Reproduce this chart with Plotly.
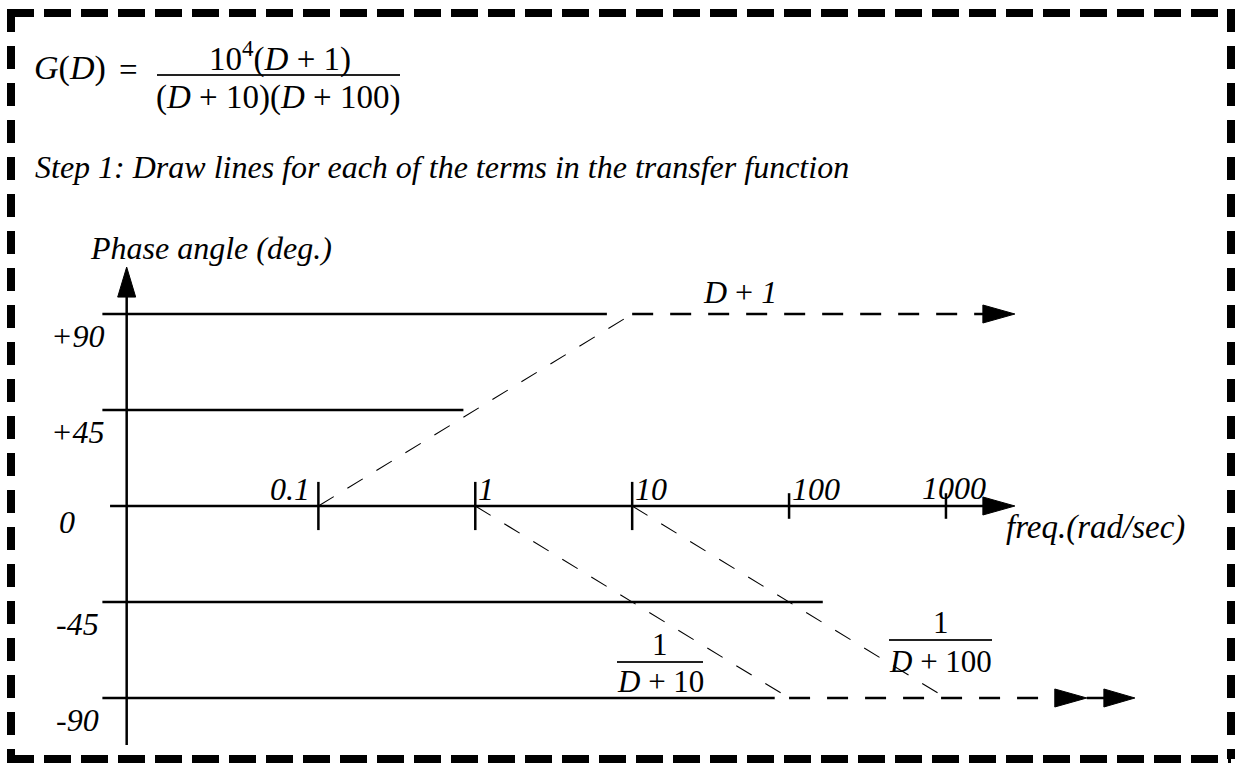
import math
import plotly.graph_objects as go

# ---------------- data ----------------
freq_ticks = [0.1, 1, 10, 100, 1000]
freq_tick_labels = ["0.1", "1", "10", "100", "1000"]

phase_levels = [90, 45, -45, -90]
phase_level_labels = ["+90", "+45", "-45", "-90"]
zero_label = "0"
# frequency where each solid reference line stops
ref_line_end_freq = [6.9, 0.84, 164, 81]

# straight-line phase asymptotes of each term
d1_freq = [0.1, 10, 2750]
d1_phase = [0, 90, 90]
d10_freq = [1, 100, 7900]
d10_phase = [0, -90, -90]
d100_freq = [10, 1000, 16000]
d100_phase = [0, -90, -90]

x_axis_end_freq = 2750
phase_axis_span = [-112, 112]

# ---------------- layout geometry ----------------
W, H = 1237, 766
X_RANGE = [-3.0293, 4.855]        # log10(freq)
Y_RANGE = [-121.88, 237.19]       # degrees
PX_DEC = W / (X_RANGE[1] - X_RANGE[0])
PX_DEG = H / (Y_RANGE[1] - Y_RANGE[0])
AXIS_FREQ = 0.006
REF_START_FREQ = 0.0042
XAXIS_START_FREQ = 0.0047

FONT = "Liberation Serif"
BLACK = "#000000"


def px(x):
    return x / W


def py(y):
    return 1 - y / H


fig = go.Figure()


def line(xs, ys, width=2.5, dash="solid"):
    fig.add_trace(go.Scatter(x=xs, y=ys, mode="lines",
                             line=dict(color=BLACK, width=width, dash=dash),
                             hoverinfo="skip", showlegend=False))


def h_arrow(f_tip, ph, L=32, Hh=18):
    lt = math.log10(f_tip)
    fb = 10 ** (lt - L / PX_DEC)
    dy = Hh / 2 / PX_DEG
    fig.add_trace(go.Scatter(x=[f_tip, fb, fb, f_tip], y=[ph, ph + dy, ph - dy, ph],
                             mode="lines", fill="toself", fillcolor=BLACK,
                             line=dict(color=BLACK, width=1), hoverinfo="skip",
                             showlegend=False))


def v_arrow(f, ph_tip, L=30, Ww=18):
    lf = math.log10(f)
    dx = Ww / 2 / PX_DEC
    pb = ph_tip - L / PX_DEG
    fig.add_trace(go.Scatter(x=[f, 10 ** (lf - dx), 10 ** (lf + dx), f],
                             y=[ph_tip, pb, pb, ph_tip],
                             mode="lines", fill="toself", fillcolor=BLACK,
                             line=dict(color=BLACK, width=1), hoverinfo="skip",
                             showlegend=False))


# phase axis (vertical)
line([AXIS_FREQ, AXIS_FREQ], [phase_axis_span[0], phase_axis_span[1] - 20 / PX_DEG])
v_arrow(AXIS_FREQ, phase_axis_span[1])

# frequency axis (phase = 0)
x_tip_base = 10 ** (math.log10(x_axis_end_freq) - 28 / PX_DEC)
line([XAXIS_START_FREQ, x_tip_base], [0, 0])
h_arrow(x_axis_end_freq, 0)

# solid reference lines
for lvl, fend in zip(phase_levels, ref_line_end_freq):
    line([REF_START_FREQ, fend], [lvl, lvl])

# ticks
tick_half = [11.3, 11.3, 11.3, 6, 6]
for f, hl in zip(freq_ticks, tick_half):
    line([f, f], [-hl, hl])

# asymptotes
THIN = "18px,16px"
THICK = "21px,17px"
for fr, ph in [(d1_freq, d1_phase), (d10_freq, d10_phase)]:
    line(fr[:2], ph[:2], width=1.1, dash=THIN)
    base = 10 ** (math.log10(fr[2]) - 28 / PX_DEC)
    line([fr[1], base], [ph[1], ph[2]], width=2.5, dash=THICK)
    h_arrow(fr[2], ph[2])

line(d100_freq[:2], d100_phase[:2], width=1.1, dash=THIN)
start = max(d100_freq[1], d10_freq[2])
base = 10 ** (math.log10(d100_freq[2]) - 28 / PX_DEC)
line([start, base], [d100_phase[2], d100_phase[2]], width=2.5, dash=THICK)
h_arrow(d100_freq[2], d100_phase[2], L=31)

# ---------------- annotations ----------------
ann = []


def text(t, x, y, size=31, xanchor="center", yanchor="middle", xref="paper", yref="paper",
         xshift=0, yshift=0):
    ann.append(dict(text=t, x=x, y=y, xref=xref, yref=yref, xanchor=xanchor,
                    yanchor=yanchor, showarrow=False, xshift=xshift, yshift=yshift,
                    font=dict(family=FONT, size=size, color=BLACK)))


# formula
text("<i>G</i>(<i>D</i>)", px(32), py(68), size=34, xanchor="left")
text("=", px(128), py(70), size=33)
text("10<sup>4</sup>(<i>D</i> + 1)", px(280), py(56), size=33)
text("(<i>D</i> + 10)(<i>D</i> + 100)", px(278), py(97), size=33)

text("<i>Step 1: Draw lines for each of the terms in the transfer function</i>",
     px(33), py(167), size=32, xanchor="left")
text("<i>Phase angle (deg.)</i>", px(211), py(248), size=32)

# frequency tick labels
for f, lab in zip(freq_ticks, freq_tick_labels):
    if lab == "0.1":
        text("<i>%s</i>" % lab, math.log10(f), 0, xref="x", yref="y", xanchor="right",
             xshift=-6, yshift=17, size=32)
    elif lab == "1000":
        text("<i>%s</i>" % lab, math.log10(f), 0, xref="x", yref="y", xshift=8, yshift=18,
             size=32)
    else:
        text("<i>%s</i>" % lab, math.log10(f), 0, xref="x", yref="y", xanchor="left",
             xshift=1, yshift=17, size=32)

text("<i>freq.(rad/sec)</i>", math.log10(x_axis_end_freq), 0, xref="x", yref="y",
     xanchor="left", xshift=-11, yshift=-22, size=33)

# phase labels
for lvl, lab in zip(phase_levels, phase_level_labels):
    text("<i>%s</i>" % lab, math.log10(AXIS_FREQ), lvl, xref="x", yref="y",
         xshift=-49, yshift=-22, size=32)
text("<i>%s</i>" % zero_label, math.log10(AXIS_FREQ), 0, xref="x", yref="y",
     xshift=-60, yshift=-16, size=32)

# term labels
text("<i>D</i> + <i>1</i>", px(740), py(292), size=32)
text("1", px(660), py(644), size=31)
text("<i>D</i> + 10", px(660), py(681), size=31)
text("1", px(941), py(622), size=31)
text("<i>D</i> + 100", px(940), py(661), size=31)

# ---------------- shapes: fraction bars + border ----------------
shapes = []
for x0, x1, y in [(157, 400, 75), (617, 703, 662), (889, 992, 640)]:
    shapes.append(dict(type="line", xref="paper", yref="paper", x0=px(x0), x1=px(x1),
                       y0=py(y), y1=py(y), line=dict(color="#222222", width=2)))

BL, BR, BT, BB = 11, 1231, 13, 759
HD = "27px,10px"
VD = "23px,14px"
for x0, y0, x1, y1, d in [(BL - 4, BT, BR, BT, HD), (BL - 4, BB, BR, BB, HD),
                          (BL, BT - 4, BL, BB, VD), (BR, BT - 4, BR, BB, VD)]:
    shapes.append(dict(type="line", xref="paper", yref="paper", x0=px(x0), x1=px(x1),
                       y0=py(y0), y1=py(y1), line=dict(color=BLACK, width=8, dash=d)))

fig.update_layout(
    width=W, height=H,
    margin=dict(l=0, r=0, t=0, b=0),
    paper_bgcolor="white", plot_bgcolor="white",
    xaxis=dict(type="log", range=X_RANGE, visible=False, fixedrange=True),
    yaxis=dict(range=Y_RANGE, visible=False, fixedrange=True),
    annotations=ann, shapes=shapes, showlegend=False, hovermode=False,
)

fig.write_html("out.html", config={"displayModeBar": False},
               post_script="document.body.style.margin='0px';"
                           "document.body.style.overflow='hidden';")
